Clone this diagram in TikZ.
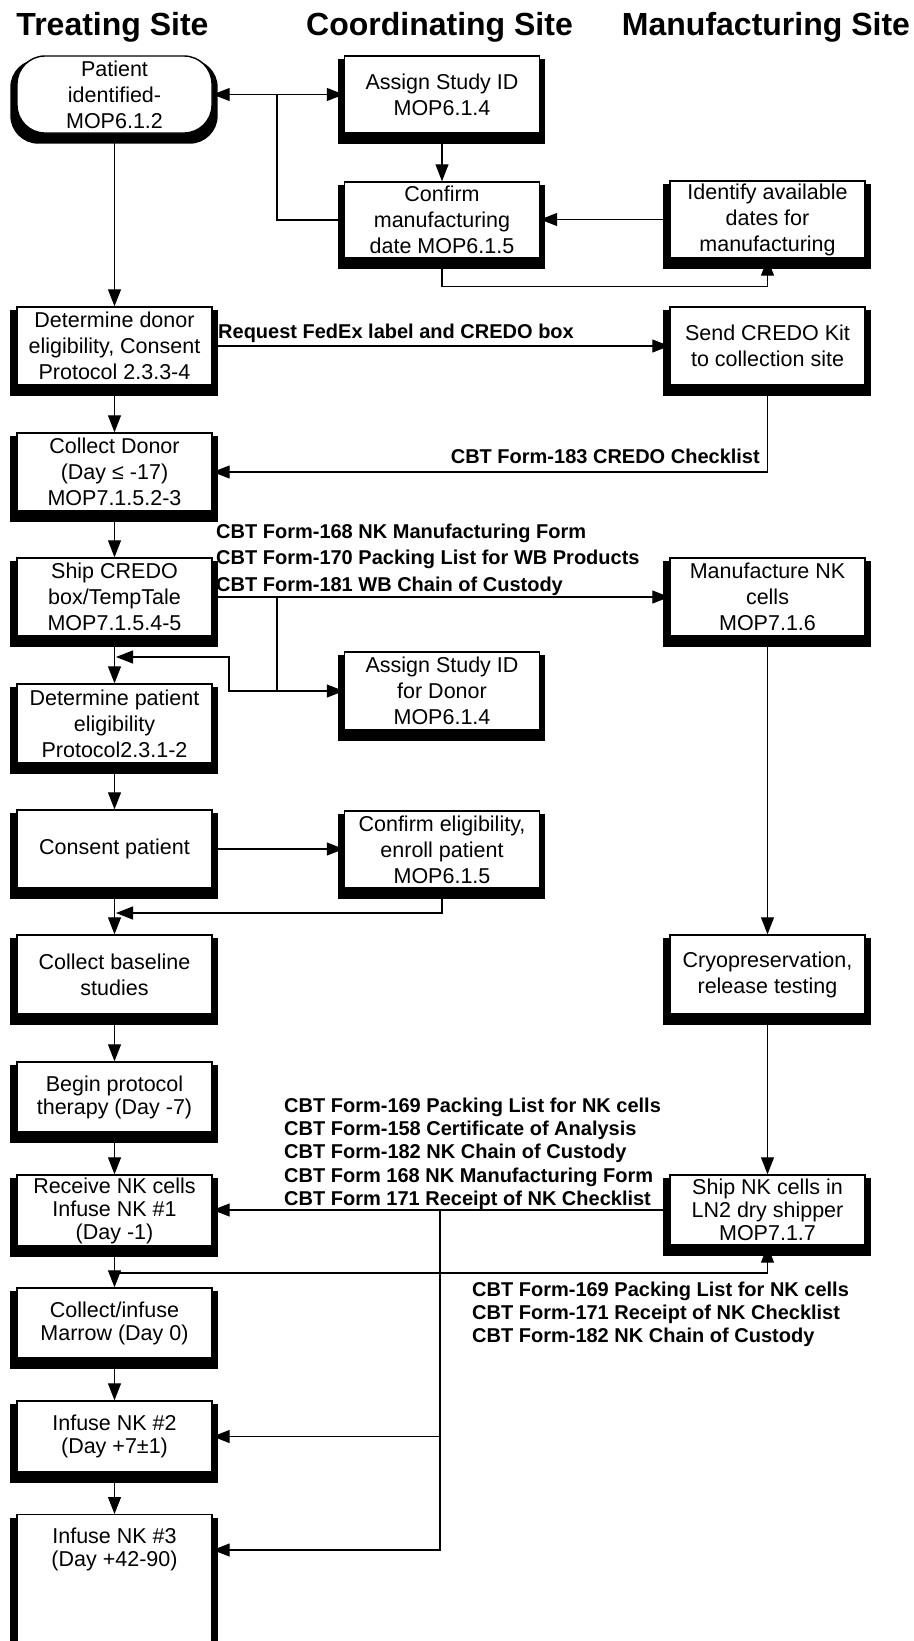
\documentclass[tikz,border=0pt]{standalone}
\usepackage{fontspec}
\setmainfont{Liberation Sans}
\usetikzlibrary{arrows.meta}
\pgfdeclarelayer{background}
\pgfsetlayers{background,main}
\begin{document}
\begin{tikzpicture}[x=1pt,y=-1pt,
  box/.style={draw, line width=1.4pt, fill=white, minimum width=195pt, inner sep=0pt, align=center, font=\fontsize{21.5}{26}\selectfont},
  lbox/.style={box, font=\fontsize{21.5}{23}\selectfont},
  arr/.style={line width=1.2pt, -{Triangle[length=17pt,width=13pt]}},
  ln/.style={line width=1.2pt},
  lab/.style={font=\bfseries\fontsize{20}{26.7}\selectfont, inner sep=0pt, align=left},
  head/.style={font=\bfseries\fontsize{32}{36}\selectfont, inner sep=0pt},
]
\useasboundingbox (0,0) rectangle (913,1641);

% headers
\node[head, anchor=base] (h1) at (112.5,35) {Treating Site};
\node[head, anchor=base] (h2) at (439.5,35) {Coordinating Site};
\node[head, anchor=base] (h3) at (766,35) {Manufacturing Site};

% treating site
\node[box, rounded corners=28pt, minimum height=77pt] (n1) at (114.5,94.5) {Patient\\identified-\\MOP6.1.2};
\node[box, minimum height=78pt] (n2) at (114.5,346) {Determine donor\\eligibility, Consent\\Protocol 2.3.3-4};
\node[box, minimum height=78pt] (n3) at (114.5,472) {Collect Donor\\(Day ≤ -17)\\MOP7.1.5.2-3};
\node[box, minimum height=78pt] (n4) at (114.5,597) {Ship CREDO\\box/TempTale\\MOP7.1.5.4-5};
\node[box, minimum height=79pt] (n5) at (114.5,723.5) {Determine patient\\eligibility\\Protocol2.3.1-2};
\node[box, minimum height=78pt] (n6) at (114.5,849) {Consent patient};
\node[box, minimum height=79pt] (n7) at (114.5,974.5) {Collect baseline\\studies};
\node[lbox, minimum height=70pt] (n8) at (114.5,1097) {Begin protocol\\therapy (Day -7)};
\node[lbox, minimum height=71pt] (n9) at (114.5,1210.5) {Receive NK cells\\Infuse NK \#1\\(Day -1)};
\node[lbox, minimum height=70pt] (n10) at (114.5,1323) {Collect/infuse\\Marrow (Day 0)};
\node[lbox, minimum height=71pt] (n11) at (114.5,1436.5) {Infuse NK \#2\\(Day +7±1)};
\node[lbox, minimum height=160pt, anchor=north] (n12) at (114.5,1514) {};
\node[lbox, draw=none, fill=none] (n12t) at (114.5,1549.5) {Infuse NK \#3\\(Day +42-90)};

% coordinating site
\node[box, minimum height=77pt] (m1) at (442,94.5) {Assign Study ID\\MOP6.1.4};
\node[box, minimum height=76pt] (m2) at (442,220) {Confirm\\manufacturing\\date MOP6.1.5};
\node[box, minimum height=78pt] (m3) at (442,691) {Assign Study ID\\for Donor\\MOP6.1.4};
\node[box, minimum height=77pt] (m4) at (442,849.5) {Confirm eligibility,\\enroll patient\\MOP6.1.5};

% manufacturing site
\node[box, minimum height=77pt] (r1) at (767.5,219.5) {Identify available\\dates for\\manufacturing};
\node[box, minimum height=78pt] (r2) at (767.5,346) {Send CREDO Kit\\to collection site};
\node[box, minimum height=78pt] (r3) at (767.5,597) {Manufacture NK\\cells\\MOP7.1.6};
\node[box, minimum height=79pt] (r4) at (767.5,974.5) {Cryopreservation,\\release testing};
\node[lbox, minimum height=70pt] (r5) at (767.5,1210) {Ship NK cells in\\LN2 dry shipper\\MOP7.1.7};

% shadows
\begin{pgfonlayer}{background}
\foreach \n in {n2,n3,n4,n5,n6,n7,n8,n9,n10,n11,n12,m1,m2,m3,m4,r1,r2,r3,r4,r5}
  \fill ([shift={(-6,4)}]\n.north west) rectangle ([shift={(5,10)}]\n.south east);
\fill[rounded corners=28pt] ([shift={(-6,4)}]n1.north west) rectangle ([shift={(5,10)}]n1.south east);
\end{pgfonlayer}

% labels
\node[lab, anchor=base west] (l1) at (218,338) {Request FedEx label and CREDO box};
\node[lab, anchor=base east] (l2) at (760,463) {CBT Form-183 CREDO Checklist};
\node[lab, anchor=north west] (l3) at (216,523.4) {CBT Form-168 NK Manufacturing Form\\CBT Form-170 Packing List for WB Products\\CBT Form-181 WB Chain of Custody};
\node[lab, font=\bfseries\fontsize{20}{23.3}\selectfont, anchor=north west] (l4) at (284,1097.4) {CBT Form-169 Packing List for NK cells\\CBT Form-158 Certificate of Analysis\\CBT Form-182 NK Chain of Custody\\CBT Form 168 NK Manufacturing Form\\CBT Form 171 Receipt of NK Checklist};
\node[lab, font=\bfseries\fontsize{20}{23}\selectfont, anchor=north west] (l5) at (472,1281.4) {CBT Form-169 Packing List for NK cells\\CBT Form-171 Receipt of NK Checklist\\CBT Form-182 NK Chain of Custody};

% junction coordinates
\coordinate (b1) at (277,597);
\coordinate (b2) at (277,691);
\coordinate (c1) at (116,657);
\coordinate (c2) at (116,913);
\coordinate (b3) at (440,1210);
\coordinate (c3) at (114.5,1273);

% connectors
\draw[arr] (n1.east) -- (m1.west);
\draw[arr] (m2.west) -- (277,220) |- (n1.east);
\draw[arr] (m1.south) -- (m2.north);
\draw[arr] (r1.west) -- (r1.west -| m2.east);
\draw[arr] (m2.south) -- ++(0,28) -| (r1.south);
\draw[arr] (n1.south) -- (n2.north);
\draw[arr] (n2.east) -- (r2.west);
\draw[arr] (n2.south) -- (n3.north);
\draw[arr] (r2.south) |- (n3.east);
\draw[arr] (n3.south) -- (n4.north);
\draw[arr] (n4.east) -- (r3.west);
\draw[arr] (b1) |- (m3.west);
\draw[arr] (b2) -| (229,657) -- (c1);
\draw[arr] (n4.south) -- (n5.north);
\draw[arr] (n5.south) -- (n6.north);
\draw[arr] (n6.east) -- (n6.east -| m4.west);
\draw[arr] (m4.south) |- (c2);
\draw[arr] (n6.south) -- (n7.north);
\draw[arr] (n7.south) -- (n8.north);
\draw[arr] (n8.south) -- (n9.north);
\draw[arr] (r3.south) -- (r4.north);
\draw[arr] (r4.south) -- (r5.north);
\draw[arr] (r5.west) -- (r5.west -| n9.east);
\draw[arr] (b3) |- (n11.east);
\draw[arr] (b3) |- ([yshift=-36pt]n12.north east);
\draw[arr] (n9.south) -- (n10.north);
\draw[arr] (c3) -| (r5.south);
\draw[arr] (n10.south) -- (n11.north);
\draw[arr] (n11.south) -- (n12.north);
\end{tikzpicture}
\end{document}
